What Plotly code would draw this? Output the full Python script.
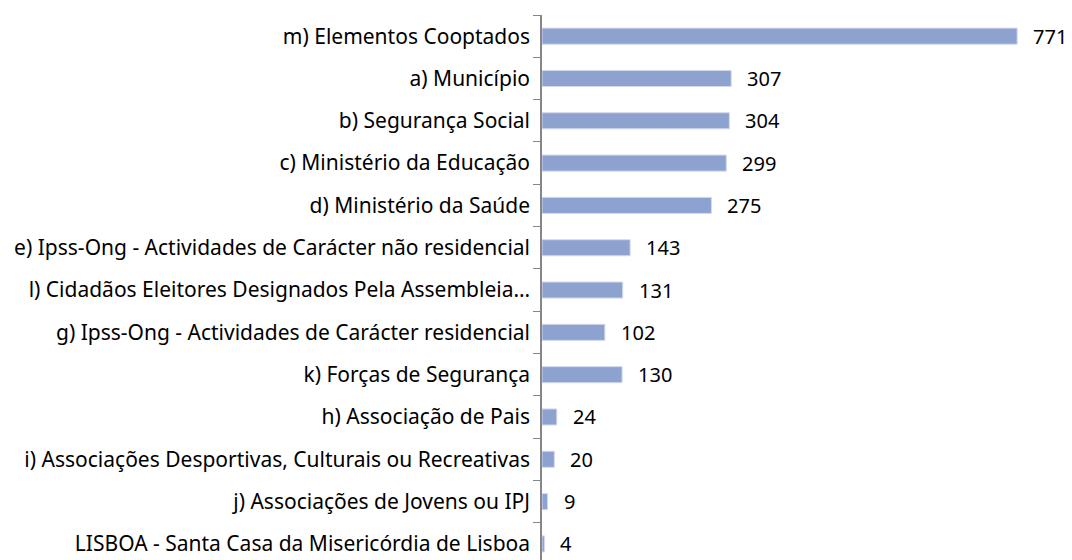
import plotly.graph_objects as go

categories = [
    "m) Elementos Cooptados",
    "a) Município",
    "b) Segurança Social",
    "c) Ministério da Educação",
    "d) Ministério da Saúde",
    "e) Ipss-Ong - Actividades de Carácter não residencial",
    "l) Cidadãos Eleitores Designados Pela Assembleia…",
    "g) Ipss-Ong - Actividades de Carácter residencial",
    "k) Forças de Segurança",
    "h) Associação de Pais",
    "i) Associações Desportivas, Culturais ou Recreativas",
    "j) Associações de Jovens ou IPJ",
    "LISBOA - Santa Casa da Misericórdia de Lisboa",
]
values = [771, 307, 304, 299, 275, 143, 131, 102, 130, 24, 20, 9, 4]

cats = categories[::-1]
vals = values[::-1]

FONT = "Noto Sans"
FS = 21

fig = go.Figure()
fig.add_trace(go.Bar(
    y=cats, x=vals, orientation="h",
    marker=dict(color="#8EA2D0", line=dict(color="#D3DAEE", width=1)),
    hoverinfo="skip",
))

for c, v in zip(cats, vals):
    fig.add_annotation(x=v, y=c, text=str(v), showarrow=False,
                       xanchor="left", xshift=14,
                       font=dict(family=FONT, size=20, color="#000000"))

fig.update_layout(
    width=1064, height=552,
    margin=dict(l=534, r=0, t=7, b=0, autoexpand=False),
    plot_bgcolor="white", paper_bgcolor="white",
    bargap=0.62,
    showlegend=False,
    font=dict(family=FONT, size=FS, color="#000000"),
)
fig.update_xaxes(range=[0, 860], visible=False, showgrid=False, zeroline=False,
                 automargin=False)
fig.update_yaxes(
    type="category",
    range=[-0.38, 12.5],
    automargin=False,
    showline=True, linecolor="#868686", linewidth=1.5,
    ticks="outside", tickson="boundaries", ticklen=7, tickcolor="#868686",
    tickwidth=1, ticklabelstandoff=6,
    showgrid=False, zeroline=False,
    tickfont=dict(family=FONT, size=FS, color="#000000"),
)

fig.write_html("out.html")
